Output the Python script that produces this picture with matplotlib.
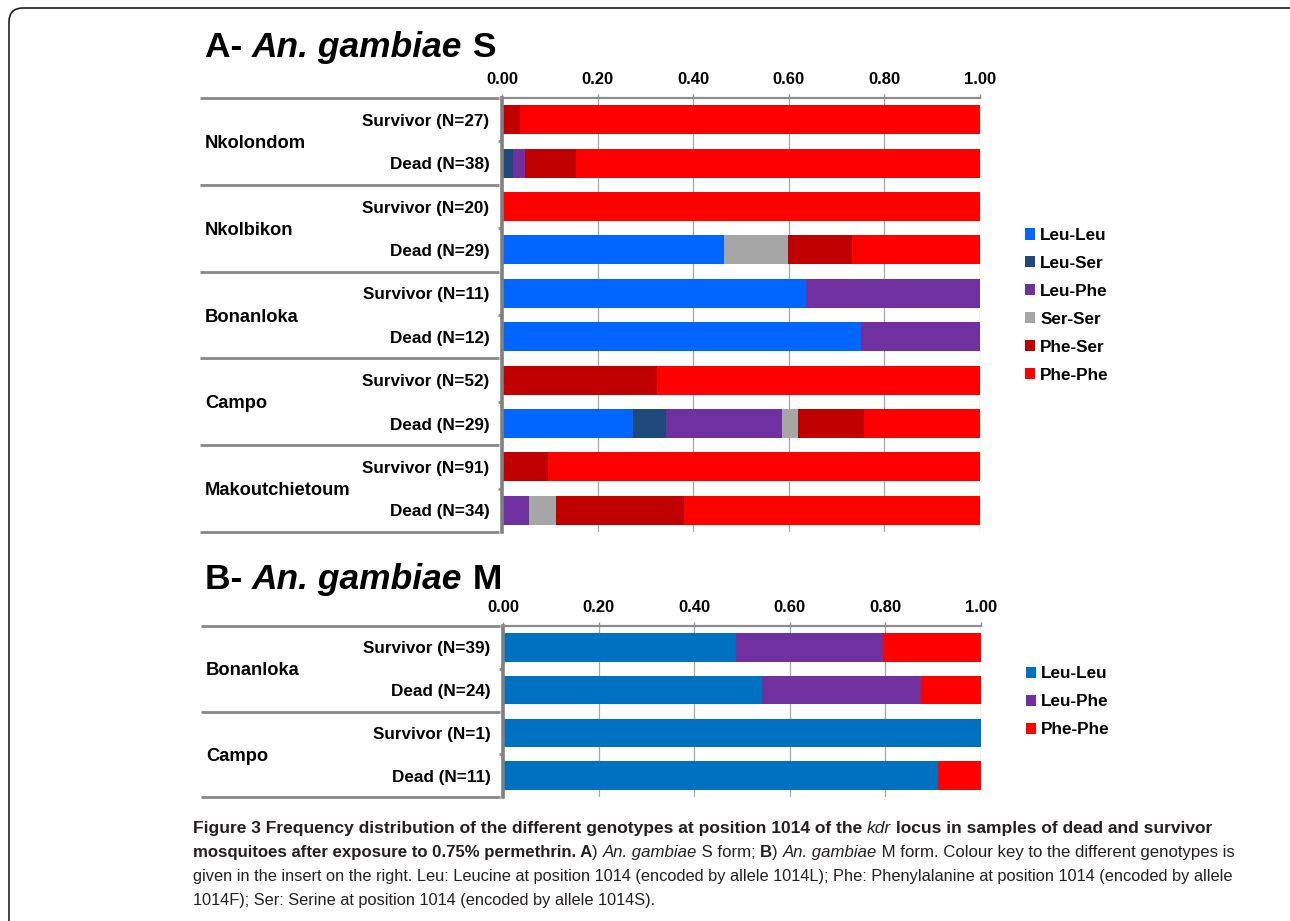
import numpy as np
import matplotlib
matplotlib.use("Agg")
import matplotlib.pyplot as plt
from matplotlib.patches import Patch, FancyBboxPatch
import matplotlib.transforms as mtransforms

# ---- panel A: An. gambiae S ----
rows_a = ["Survivor (N=27)", "Dead (N=38)", "Survivor (N=20)", "Dead (N=29)",
          "Survivor (N=11)", "Dead (N=12)", "Survivor (N=52)", "Dead (N=29)",
          "Survivor (N=91)", "Dead (N=34)"]
groups_a = ["Nkolondom", "Nkolbikon", "Bonanloka", "Campo", "Makoutchietoum"]
genotypes_a = ["Leu-Leu", "Leu-Ser", "Leu-Phe", "Ser-Ser", "Phe-Ser", "Phe-Phe"]
leu_leu_a = [0, 0, 0, 0.464, 0.636, 0.750, 0, 0.275, 0, 0]
leu_ser_a = [0, 0.024, 0, 0, 0, 0, 0, 0.068, 0, 0]
leu_phe_a = [0, 0.025, 0, 0, 0.364, 0.250, 0, 0.242, 0, 0.057]
ser_ser_a = [0, 0, 0, 0.135, 0, 0, 0, 0.035, 0, 0.057]
phe_ser_a = [0.037, 0.105, 0, 0.133, 0, 0, 0.325, 0.138, 0.097, 0.267]
phe_phe_a = [0.963, 0.846, 1.0, 0.268, 0, 0, 0.675, 0.242, 0.903, 0.619]
colors_a = ["#0066FF", "#1F497D", "#7030A0", "#A6A6A6", "#C00000", "#FF0000"]

# ---- panel B: An. gambiae M ----
rows_b = ["Survivor (N=39)", "Dead (N=24)", "Survivor (N=1)", "Dead (N=11)"]
groups_b = ["Bonanloka", "Campo"]
genotypes_b = ["Leu-Leu", "Leu-Phe", "Phe-Phe"]
leu_leu_b = [0.487, 0.541, 1.0, 0.909]
leu_phe_b = [0.309, 0.334, 0, 0]
phe_phe_b = [0.204, 0.125, 0, 0.091]
colors_b = ["#0070C0", "#7030A0", "#FF0000"]

xticks = [0, 0.2, 0.4, 0.6, 0.8, 1.0]

FAM = ["Liberation Sans", "DejaVu Sans"]
plt.rcParams["font.family"] = FAM

W, H = 1290, 921
fig = plt.figure(figsize=(W / 100, H / 100), dpi=100)


def px_axes(left, top, right, bottom):
    return fig.add_axes([left / W, 1 - bottom / H, (right - left) / W, (bottom - top) / H])


def draw_panel(ax, rows, groups, series, colors, labels, leg_y):
    n = len(rows)
    y = np.arange(n) + 0.5
    left = np.zeros(n)
    handles = []
    for vals, c, lab in zip(series, colors, labels):
        vals = np.array(vals)
        ax.barh(y, vals, left=left, height=0.67, color=c, edgecolor="none", zorder=2)
        left += vals
        handles.append(Patch(facecolor=c, edgecolor="none", label=lab))
    ax.set_xlim(0, 1)
    ax.set_ylim(n, 0)
    ax.set_axisbelow(True)
    ax.xaxis.tick_top()
    ax.set_xticks(xticks)
    ax.set_xticklabels(["%.2f" % v for v in xticks], fontsize=12, fontweight="bold")
    ax.tick_params(axis="x", length=3, width=1, color="#909090", pad=5)
    ax.grid(axis="x", color="#A6A6A6", lw=0.9)
    ax.set_yticks(y)
    ax.set_yticklabels(rows, fontsize=12.3, fontweight="bold")
    ax.tick_params(axis="y", which="major", length=0, pad=9)
    gc = np.arange(len(groups)) * 2 + 1
    ax.set_yticks(gc, minor=True)
    ax.tick_params(axis="y", which="minor", length=3, width=2, color="#909090")
    for s in ["right", "bottom"]:
        ax.spines[s].set_visible(False)
    ax.spines["left"].set_color("#808080")
    ax.spines["left"].set_linewidth(2.6)
    ax.spines["top"].set_color("#8C8C8C")
    ax.spines["top"].set_linewidth(1.6)
    trans = mtransforms.blended_transform_factory(ax.transAxes, ax.transData)
    x0 = (200 - 502) / 478
    for b in range(0, n + 1, 2):
        ax.plot([x0, -0.006], [b, b], transform=trans, color="#888888",
                lw=2.0, clip_on=False, solid_capstyle="butt")
    for g, c in zip(groups, gc):
        ax.text((205 - 502) / 478, c + 0.05, g, transform=trans, ha="left",
                va="center", fontsize=13.2, fontweight="bold")
    ax.legend(handles=handles, loc="center left", bbox_to_anchor=(1.076, leg_y),
              frameon=False, handlelength=0.62, handleheight=0.62,
              handletextpad=0.28, labelspacing=0.76, borderpad=0,
              prop={"weight": "bold", "size": 12.3})


ax_a = px_axes(502, 98, 980, 532)
draw_panel(ax_a, rows_a, groups_a,
           [leu_leu_a, leu_ser_a, leu_phe_a, ser_ser_a, phe_ser_a, phe_phe_a],
           colors_a, genotypes_a, 0.522)

ax_b = px_axes(503, 626, 981, 797)
draw_panel(ax_b, rows_b, groups_b, [leu_leu_b, leu_phe_b, phe_phe_b],
           colors_b, genotypes_b, 0.556)

renderer = fig.canvas.get_renderer()


def rich_line(x, y, pieces, size, family, color="black", draw=True):
    # x, y in pixels (y from top, baseline); returns width in pixels
    cx = x
    for s, weight, style in pieces:
        t = fig.text(cx / W, 1 - y / H, s, fontsize=size, fontweight=weight,
                     fontstyle=style, family=family, color=color,
                     ha="left", va="baseline")
        bb = t.get_window_extent(renderer)
        cx += bb.width
        if not draw:
            t.remove()
    return cx - x


# panel titles
rich_line(205, 57, [("A- ", "bold", "normal"), ("An. gambiae", "bold", "italic"),
                    (" S", "bold", "normal")], 25.5, FAM)
rich_line(205, 589, [("B- ", "bold", "normal"), ("An. gambiae", "bold", "italic"),
                     (" M", "bold", "normal")], 25.5, FAM)

cap_fam = FAM
cap_lines = [
    [("Figure 3 Frequency distribution of the different genotypes at position 1014 of the ", "bold", "normal"),
     ("kdr", "normal", "italic"),
     (" locus in samples of dead and survivor", "bold", "normal")],
    [("mosquitoes after exposure to 0.75% permethrin. A", "bold", "normal"),
     (") ", "normal", "normal"), ("An. gambiae", "normal", "italic"),
     (" S form; ", "normal", "normal"), ("B", "bold", "normal"),
     (") ", "normal", "normal"), ("An. gambiae", "normal", "italic"),
     (" M form. Colour key to the different genotypes is", "normal", "normal")],
    [("given in the insert on the right. Leu: Leucine at position 1014 (encoded by allele 1014L); "
      "Phe: Phenylalanine at position 1014 (encoded by allele", "normal", "normal")],
    [("1014F); Ser: Serine at position 1014 (encoded by allele 1014S).", "normal", "normal")],
]
cap_widths = [1044, 1039, 1044, None]

# no condensed face installed: fit each full line to its width in the original,
# the short last line keeps the size of the line above it
size = 12
for i, (pieces, wt) in enumerate(zip(cap_lines, cap_widths)):
    if wt is not None:
        w12 = rich_line(193, 833 + i * 24, pieces, 12, cap_fam, draw=False)
        size = min(12 * wt / w12, 12.5)
    rich_line(193, 833 + i * 24, pieces, size, cap_fam, color="#231F20")

# outer rounded frame
frame = FancyBboxPatch((9, -30), 1300, H - 8 + 30,
                       boxstyle="round,pad=0,rounding_size=14",
                       transform=mtransforms.IdentityTransform(),
                       facecolor="none", edgecolor="#231F20", lw=1.2)
fig.patches.append(frame)

fig.savefig("out.png", dpi=100)
